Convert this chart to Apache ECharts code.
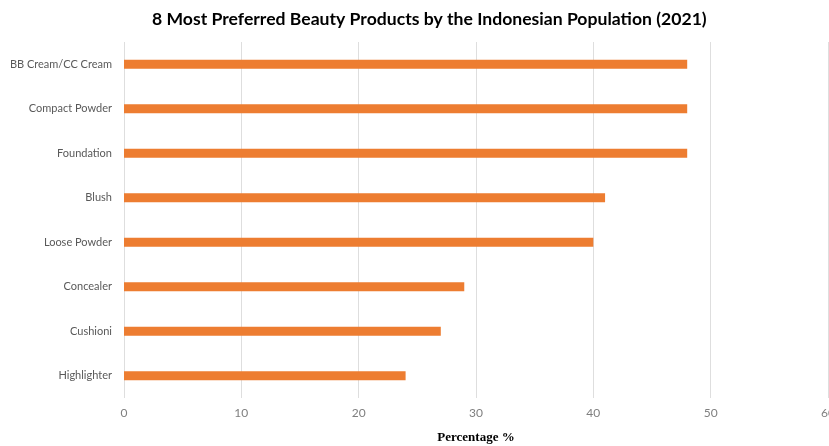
<!DOCTYPE html>
<html>
<head>
<meta charset="utf-8">
<script src="https://cdn.jsdelivr.net/npm/echarts@6/dist/echarts.min.js"></script>
<style>
  html, body { margin: 0; padding: 0; background: #fff; }
  #main { width: 829px; height: 446px; }
</style>
</head>
<body>
<div id="main"></div>
<script>
// categories listed bottom to top (category axis on y starts at the bottom)
let products = ["Highlighter", "Cushioni", "Concealer", "Loose Powder", "Blush", "Foundation", "Compact Powder", "BB Cream/CC Cream"];
let percentages = [24, 27, 29, 40, 41, 48, 48, 48];
let xTicks = [0, 10, 20, 30, 40, 50, 60];

let dom = document.getElementById("main");
let myChart = echarts.init(dom, null, {
    renderer: "canvas",
    useDirtyRect: false,
});
let option;

option = {
    animation: false,
    title: {
        text: "8 Most Preferred Beauty Products by the Indonesian Population (2021)",
        left: 147,
        top: 5,
        textStyle: {
            fontFamily: "Lato",
            fontWeight: "bold",
            fontSize: 17.6,
            color: "#000",
        },
    },
    grid: {
        left: 124,
        right: 1,
        top: 42,
        bottom: 48,
        containLabel: false,
        outerBoundsMode: "none",
    },
    xAxis: {
        type: "value",
        min: xTicks[0],
        max: xTicks[xTicks.length - 1],
        interval: 10,
        name: "Percentage %",
        nameLocation: "middle",
        nameGap: 33,
        nameTextStyle: {
            fontFamily: "Liberation Serif",
            fontWeight: "bold",
            fontSize: 13,
            color: "#000",
        },
        axisLine: { show: false },
        axisTick: { show: false },
        axisLabel: {
            color: "#7f7f7f",
            fontFamily: "Lato",
            fontSize: 12,
            margin: 9,
        },
        splitLine: {
            show: true,
            lineStyle: { color: "#dedede", width: 1 },
        },
    },
    yAxis: {
        type: "category",
        data: products,
        axisLine: { show: false },
        axisTick: { show: false },
        axisLabel: {
            color: "#595959",
            fontFamily: "Lato",
            fontSize: 11,
            margin: 12,
        },
    },
    series: [{
        name: "Percentage",
        type: "bar",
        data: percentages,
        barWidth: 9,
        itemStyle: { color: "#ed7d31" },
    }],
};

if (option && typeof option === "object") {
    myChart.setOption(option);
}

window.addEventListener("resize", myChart.resize);
</script>
</body>
</html>
